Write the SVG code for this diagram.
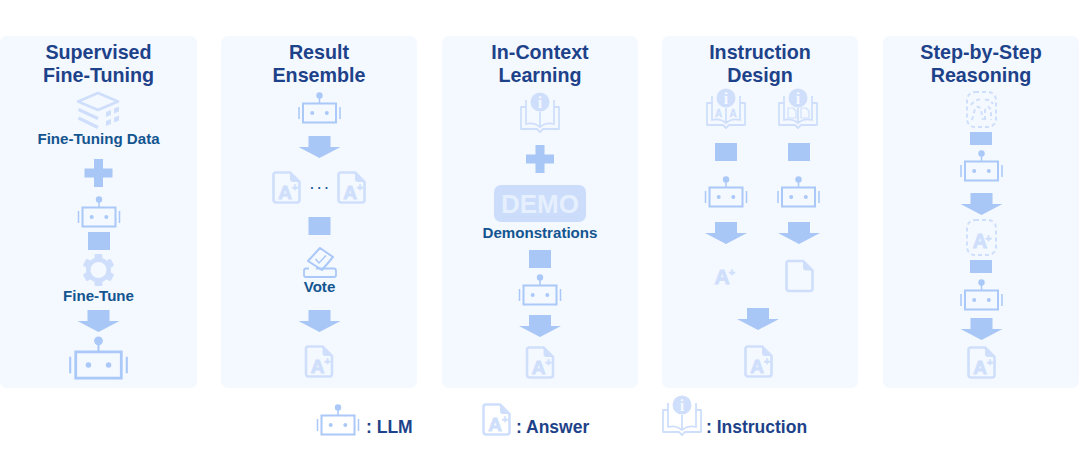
<svg xmlns="http://www.w3.org/2000/svg" width="1080" height="470" viewBox="0 0 1080 470">
<style>
text{font-family:"Liberation Sans",Arial,sans-serif;font-weight:700;text-anchor:middle}
.panel{fill:#f4f8ff}
.title{font-size:19.7px;fill:#1d4289}
.label{font-size:15.1px;fill:#13558f}
.leg{font-size:17.5px;fill:#1d4289;text-anchor:start}
.conn{fill:#a8c6f6}
.bs{fill:none;stroke:#aac8f8;stroke-width:2}
.bt{fill:none;stroke:#aac8f8;stroke-width:1.5}
.bf{fill:#aac8f8}
.ls{fill:none;stroke:#cfdffb;stroke-width:2.6;stroke-linejoin:round}
.l2{fill:none;stroke:#cfdffb;stroke-width:1.8;stroke-linejoin:round}
.l3{fill:none;stroke:#cfdffb;stroke-width:3.2;stroke-linejoin:round}
.l1{fill:none;stroke:#cfdffb;stroke-width:1.2;stroke-linejoin:round}
.ld{fill:none;stroke:#cfdffb;stroke-width:2;stroke-dasharray:4 3}
.lf{fill:#cfdffb}
.ia{font-size:19px;fill:#cfdffb;stroke:#cfdffb;stroke-width:.9}
.ip{font-size:11px;fill:#cfdffb;stroke:#cfdffb;stroke-width:.4}
.ii{font-family:"Liberation Serif",serif;font-size:16px;fill:#f4f8ff}
.sa{font-size:10px;fill:#cfdffb;stroke:#cfdffb;stroke-width:.3}
.dots{font-size:12px;fill:#13558f}
</style>
<defs>
<g id="bot">
<rect class="bs" x="-16.5" y="-9.5" width="33" height="19"/>
<circle class="bf" cx="-7.3" cy="0" r="2"/><circle class="bf" cx="7.3" cy="0" r="2"/>
<path class="bt" d="M0-10V-16M-20.500-6V6M20.500-6V6"/>
<circle class="bf" cx="0" cy="-17.500" r="3.200"/>
</g>
<polygon id="arrow" points="-11,0 11,0 11,11 21,11 0,22 -21,11 -11,11"/>
<polygon id="plus" points="-4.500,-14 4.500,-14 4.500,-4.500 14,-4.500 14,4.500 4.500,4.500 4.500,14 -4.500,14 -4.500,4.500 -14,4.500 -14,-4.500 -4.500,-4.500"/>
<g id="page">
<path class="ls" d="M3.500 1.500H18L27.500 11V29A2.500 2.500 0 0 1 25 31.500H4A2.500 2.500 0 0 1 1.500 29V3.500A2 2 0 0 1 3.500 1.500Z"/>
<path class="lf" d="M18 2L27 11H21A3 3 0 0 1 18 8Z"/>
</g>
<g id="doc">
<use href="#page"/>
<text class="ia" x="13" y="27.500">A</text><text class="ip" x="23" y="20">+</text>
</g>
<g id="book">
<path class="l2" d="M-14 5H-19V27H-3L0 30L3 27H19V5H14"/>
<path class="l2" d="M-14-2V22Q-6 20 0 25Q6 20 14 22V-2M0 10V25"/>
<circle class="lf" cx="0" cy="0" r="9.500"/>
<text class="ii" x="0" y="5.500">i</text>
</g>
<g id="dashbox">
<rect class="ld" x="1" y="1" width="29" height="35" rx="8"/>
</g>
</defs>

<g id="panels">
<rect class="panel" x="0" y="36" width="197" height="352" rx="7"/>
<rect class="panel" x="221" y="36" width="196" height="352" rx="7"/>
<rect class="panel" x="442" y="36" width="196" height="352" rx="7"/>
<rect class="panel" x="662" y="36" width="196" height="352" rx="7"/>
<rect class="panel" x="883" y="36" width="196" height="352" rx="7"/>
</g>

<g id="titles">
<text class="title" x="98.500" y="59">Supervised</text><text class="title" x="98.500" y="82">Fine-Tuning</text>
<text class="title" x="319" y="59">Result</text><text class="title" x="319" y="82">Ensemble</text>
<text class="title" x="540" y="59">In-Context</text><text class="title" x="540" y="82">Learning</text>
<text class="title" x="760" y="59">Instruction</text><text class="title" x="760" y="82">Design</text>
<text class="title" x="981" y="59">Step-by-Step</text><text class="title" x="981" y="82">Reasoning</text>
</g>

<g id="connectors" class="conn">
<use href="#plus" x="98.500" y="173"/>
<rect x="88" y="232" width="22" height="18"/>
<use href="#arrow" x="98.500" y="310"/>
<use href="#arrow" x="319.500" y="136"/>
<rect x="308.500" y="217" width="22" height="18"/>
<use href="#arrow" x="319.500" y="310"/>
<use href="#plus" x="540" y="159"/>
<rect x="529" y="250" width="22" height="18"/>
<use href="#arrow" x="540" y="315"/>
<rect x="715" y="143" width="22" height="18"/>
<rect x="788" y="143" width="22" height="18"/>
<use href="#arrow" x="726" y="222"/>
<use href="#arrow" x="799" y="222"/>
<use href="#arrow" x="758" y="308"/>
<rect x="970" y="132" width="22" height="13"/>
<use href="#arrow" x="981.500" y="193"/>
<rect x="970" y="260" width="22" height="13"/>
<use href="#arrow" x="981.500" y="318"/>
</g>

<g id="p1-data">
<path class="ls" d="M98 93L118 101.500L98 110L78 101.500Z"/>
<path class="l3" d="M78.500 109.500L98 118.500M78.500 118L98 127.500"/>
<path class="lf" d="M106 112L111 110V115L106 117ZM114 108.500L119 106.500V111.500L114 113.500ZM106 121L111 119V124L106 126ZM114 117.500L119 115.500V120.500L114 122.500Z"/>
<text class="label" x="98.500" y="144">Fine-Tuning Data</text>
</g>
<g id="p1-llm"><use href="#bot" x="99" y="217"/></g>
<g id="p1-finetune">
<g transform="translate(98.500 270)" class="lf">
<path fill-rule="evenodd" d="M0-12.500A12.500 12.500 0 1 1 0 12.500A12.500 12.500 0 1 1 0-12.500ZM0-8A8 8 0 1 0 0 8A8 8 0 1 0 0-8Z"/>
<rect x="-4" y="-16" width="8" height="6" rx="1.500"/>
<rect x="-4" y="-16" width="8" height="6" rx="1.500" transform="rotate(60)"/>
<rect x="-4" y="-16" width="8" height="6" rx="1.500" transform="rotate(120)"/>
<rect x="-4" y="-16" width="8" height="6" rx="1.500" transform="rotate(180)"/>
<rect x="-4" y="-16" width="8" height="6" rx="1.500" transform="rotate(240)"/>
<rect x="-4" y="-16" width="8" height="6" rx="1.500" transform="rotate(300)"/>
</g>
<text class="label" x="98.500" y="300.500">Fine-Tune</text>
</g>
<g id="p1-llm-tuned"><use href="#bot" transform="translate(98.500 365) scale(1.38)"/></g>

<g id="p2-llm"><use href="#bot" x="319.500" y="113"/></g>
<g id="p2-answers">
<use href="#doc" x="272" y="171"/><use href="#doc" x="337" y="171"/>
<text class="dots" x="319.500" y="192">· · ·</text>
</g>
<g id="p2-vote">
<path d="M308 261L320 248L333 257L322 270Z" fill="#f4f8ff" stroke="#aac8f8" stroke-width="2" stroke-linejoin="round"/>
<path d="M315.500 259L319 263L326 255.500" fill="none" stroke="#aac8f8" stroke-width="1.500"/>
<path d="M309 268.500H306Q304 268.500 304 271V275Q304 277 306 277H334Q336 277 336 275V271Q336 268.500 334 268.500H316" fill="none" stroke="#aac8f8" stroke-width="1.800"/>
<text class="label" x="319.500" y="292">Vote</text>
</g>
<g id="p2-answer"><use href="#doc" x="304.500" y="345"/></g>

<g id="p3-instruction"><use href="#book" x="540" y="102"/></g>
<g id="p3-demo">
<rect x="494" y="185" width="92" height="37" rx="7" fill="#cbddfb"/>
<text x="540" y="213" font-size="26" fill="#e6effd">DEMO</text>
<text class="label" x="540" y="238">Demonstrations</text>
</g>
<g id="p3-llm"><use href="#bot" x="540" y="295"/></g>
<g id="p3-answer"><use href="#doc" x="525.500" y="346"/></g>

<g id="p4-instruction-a">
<use href="#book" x="726" y="98"/>
<text class="sa" x="718.500" y="117">A</text><text class="sa" x="733" y="117">A</text>
</g>
<g id="p4-instruction-b">
<use href="#book" x="798" y="98"/>
<path class="l1" d="M788 108H793L796 111V118H788ZM801 108H806L809 111V118H801Z"/>
</g>
<g id="p4-llm-a"><use href="#bot" x="726" y="197"/></g>
<g id="p4-llm-b"><use href="#bot" x="798.500" y="197"/></g>
<g id="p4-a"><text class="ia" style="font-size:21px" x="722" y="284">A</text><text class="ip" x="732" y="276">+</text></g>
<g id="p4-doc"><use href="#page" x="785" y="259.500"/></g>
<g id="p4-answer"><use href="#doc" x="744" y="345"/></g>

<g id="p5-thought">
<use href="#dashbox" x="966" y="91"/>
<path class="ld" d="M972 120L975 109Q978 104 981 110L983 120M985 120V110Q988 104 991 110V120M971 105Q976 98 982 100M985 100Q990 99 993 104"/>
</g>
<g id="p5-llm-a"><use href="#bot" x="981.500" y="171"/></g>
<g id="p5-thought-a">
<use href="#dashbox" x="966" y="219"/>
<text class="ia" style="font-size:20px" x="980" y="248">A</text><text class="ip" x="988.500" y="242">+</text>
</g>
<g id="p5-llm-b"><use href="#bot" x="981.500" y="300"/></g>
<g id="p5-answer"><use href="#doc" x="967" y="346"/></g>

<g id="legend-llm"><use href="#bot" x="338" y="425"/><text class="leg" x="366" y="432.500">: LLM</text></g>
<g id="legend-answer"><use href="#doc" x="482" y="403"/><text class="leg" x="516" y="432.500">: Answer</text></g>
<g id="legend-instruction"><use href="#book" x="682" y="405"/><text class="leg" x="706" y="432.500">: Instruction</text></g>
</svg>
